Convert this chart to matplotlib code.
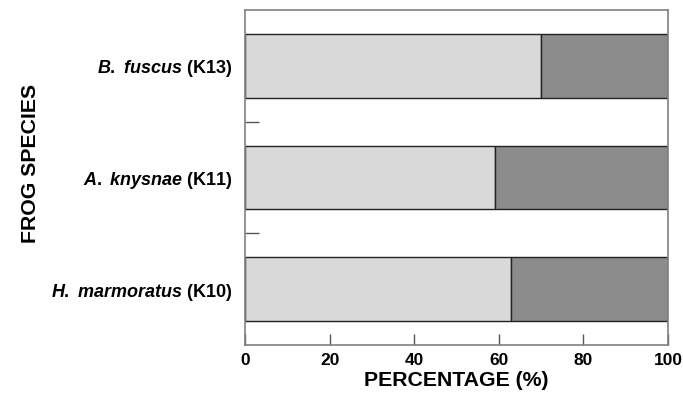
import matplotlib
matplotlib.use("Agg")
import matplotlib.pyplot as plt

plt.rcParams['font.family'] = ['Liberation Sans', 'DejaVu Sans']
plt.rcParams['font.weight'] = 'bold'
plt.rcParams['mathtext.fontset'] = 'custom'
plt.rcParams['mathtext.rm'] = 'Liberation Sans:bold'
plt.rcParams['mathtext.it'] = 'Liberation Sans:italic:bold'

species = [r'$\mathit{H.}$ $\mathit{marmoratus}$ (K10)', r'$\mathit{A.}$ $\mathit{knysnae}$ (K11)', r'$\mathit{B.}$ $\mathit{fuscus}$ (K13)']
part_a = [63, 59, 70]
part_b = [37, 41, 30]
x_ticks = [0, 20, 40, 60, 80, 100]

fig = plt.figure(figsize=(6.83, 4.0), dpi=100)
ax = fig.add_axes([245/683, 55/400, 423/683, 335/400])

pos = list(range(len(species)))
ax.barh(pos, part_a, height=0.57, color='#d9d9d9', edgecolor='#222222', linewidth=1.0)
ax.barh(pos, part_b, left=part_a, height=0.57, color='#8c8c8c', edgecolor='#222222', linewidth=1.0)

ax.set_xlim(0, 100)
ax.set_ylim(-0.5, 2.5)
ax.set_xticks(x_ticks)
ax.set_xticklabels([str(t) for t in x_ticks], fontsize=12.5, fontweight='bold')
ax.set_yticks(pos)
ax.set_yticklabels(species, fontsize=13, fontweight='bold')
ax.set_yticks([0.5, 1.5], minor=True)
ax.tick_params(axis='y', which='major', length=0, pad=9)
ax.tick_params(axis='y', which='minor', direction='in', length=10, color='#555555', width=1)
ax.tick_params(axis='x', direction='in', length=8, color='#555555', width=1, pad=6)

for s in ax.spines.values():
    s.set_color('#808080')
    s.set_linewidth(1.2)

ax.set_xlabel('PERCENTAGE (%)', fontsize=15.3, fontweight='bold', labelpad=2)
fig.text(31/683, 1 - 163/400, 'FROG SPECIES', rotation=90, fontsize=15.3, fontweight='bold', ha='center', va='center')

fig.savefig('out.png', dpi=100)
